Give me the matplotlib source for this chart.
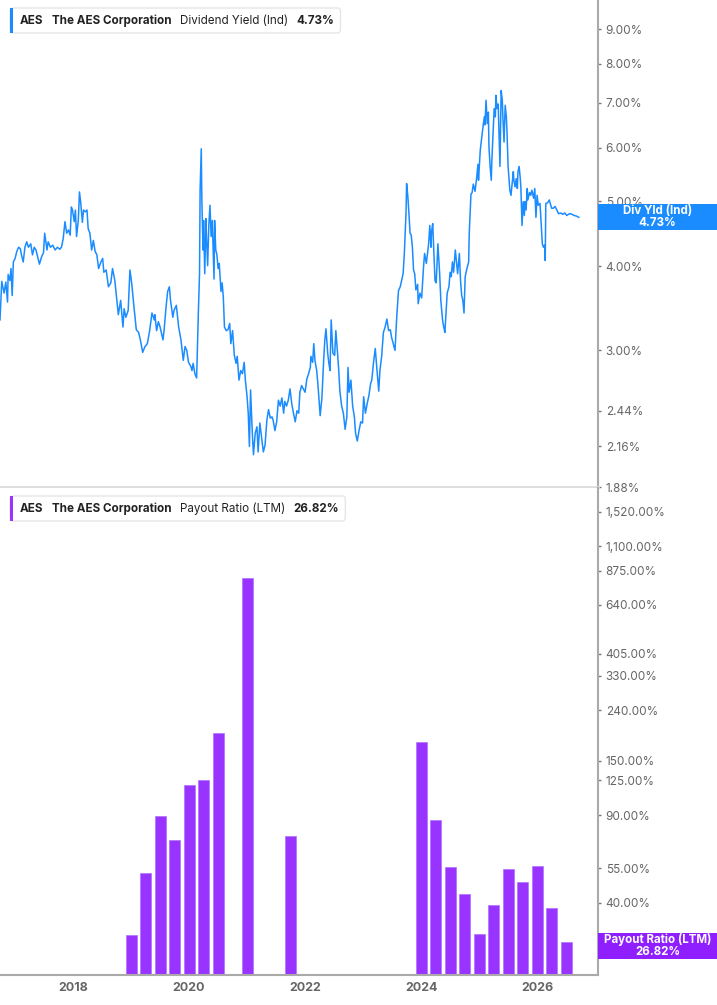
import matplotlib
matplotlib.use("Agg")
import matplotlib.pyplot as plt
from matplotlib.patches import FancyBboxPatch, Rectangle
from matplotlib.ticker import FixedLocator, NullLocator, FuncFormatter

plt.rcParams['font.family'] = ['Inter', 'DejaVu Sans']

# dividend yield (Ind), %  - decimal years
dy_dates = [
    2016.74, 2016.77, 2016.81, 2016.84, 2016.87, 2016.88, 2016.91, 2016.93, 2016.95, 2016.97,
    2017.00, 2017.03, 2017.06, 2017.09, 2017.11, 2017.14, 2017.17, 2017.20, 2017.23, 2017.27,
    2017.30, 2017.33, 2017.36, 2017.38, 2017.42, 2017.46, 2017.49, 2017.51, 2017.55, 2017.57,
    2017.61, 2017.65, 2017.69, 2017.73, 2017.77, 2017.80, 2017.83, 2017.86, 2017.89, 2017.92,
    2017.95, 2017.97, 2017.99, 2018.02, 2018.04, 2018.06, 2018.09, 2018.11, 2018.13, 2018.16,
    2018.18, 2018.21, 2018.24, 2018.26, 2018.29, 2018.32, 2018.35, 2018.38, 2018.41, 2018.44,
    2018.48, 2018.51, 2018.53, 2018.57, 2018.61, 2018.65, 2018.68, 2018.72, 2018.75, 2018.78,
    2018.82, 2018.86, 2018.88, 2018.91, 2018.95, 2018.98, 2019.01, 2019.05, 2019.09, 2019.13,
    2019.16, 2019.20, 2019.24, 2019.28, 2019.32, 2019.36, 2019.40, 2019.41, 2019.44, 2019.47,
    2019.50, 2019.55, 2019.57, 2019.60, 2019.63, 2019.66, 2019.68, 2019.72, 2019.74, 2019.78,
    2019.82, 2019.86, 2019.90, 2019.93, 2019.96, 2019.99, 2020.03,
    2020.05, 2020.07, 2020.10, 2020.13, 2020.16, 2020.18, 2020.19, 2020.21, 2020.22, 2020.24,
    2020.25, 2020.27, 2020.29, 2020.30, 2020.32, 2020.34, 2020.36, 2020.38, 2020.40, 2020.43,
    2020.44, 2020.46, 2020.48, 2020.50, 2020.52, 2020.55, 2020.57, 2020.59, 2020.61, 2020.64,
    2020.67, 2020.70, 2020.72, 2020.75, 2020.78, 2020.81, 2020.83, 2020.86, 2020.89, 2020.92,
    2020.95, 2020.97, 2021.00, 2021.02, 2021.04, 2021.06, 2021.09, 2021.11, 2021.14, 2021.17,
    2021.19, 2021.22, 2021.25, 2021.28, 2021.31, 2021.34, 2021.37, 2021.40, 2021.43, 2021.45,
    2021.48, 2021.51, 2021.54, 2021.57, 2021.60, 2021.63, 2021.65, 2021.68, 2021.71, 2021.74,
    2021.77, 2021.80, 2021.83, 2021.86, 2021.89, 2021.91, 2021.94, 2021.97, 2022.00, 2022.03,
    2022.06, 2022.09, 2022.10, 2022.13, 2022.15, 2022.17, 2022.20, 2022.22, 2022.24, 2022.26,
    2022.29, 2022.32, 2022.34, 2022.36, 2022.39, 2022.41, 2022.43, 2022.45, 2022.48, 2022.51,
    2022.53, 2022.56, 2022.58, 2022.60, 2022.63, 2022.66, 2022.69, 2022.72, 2022.74, 2022.76,
    2022.79, 2022.82, 2022.85, 2022.87, 2022.90, 2022.93, 2022.96, 2022.99, 2023.01, 2023.04,
    2023.07, 2023.10, 2023.13, 2023.15, 2023.18, 2023.21, 2023.24, 2023.27, 2023.29, 2023.32,
    2023.35, 2023.38, 2023.41, 2023.44, 2023.47, 2023.49, 2023.52, 2023.55, 2023.58, 2023.61,
    2023.64, 2023.67, 2023.69, 2023.71, 2023.74, 2023.75, 2023.77, 2023.79, 2023.81, 2023.83,
    2023.85, 2023.87, 2023.89, 2023.91, 2023.94, 2023.95, 2023.98, 2024.01, 2024.04, 2024.06,
    2024.09, 2024.11, 2024.13, 2024.15, 2024.17, 2024.18, 2024.20, 2024.22, 2024.24, 2024.26,
    2024.29, 2024.32, 2024.34, 2024.37, 2024.39, 2024.41, 2024.43, 2024.45, 2024.48, 2024.50,
    2024.52, 2024.54, 2024.56, 2024.59, 2024.61, 2024.63, 2024.66, 2024.68, 2024.70, 2024.72,
    2024.74, 2024.76, 2024.79, 2024.82, 2024.83, 2024.86, 2024.88, 2024.90, 2024.93, 2024.96,
    2024.98, 2024.99, 2025.02, 2025.04, 2025.06, 2025.09, 2025.10, 2025.12, 2025.14, 2025.16,
    2025.17, 2025.19, 2025.21, 2025.22, 2025.24, 2025.26, 2025.28, 2025.29, 2025.31, 2025.33,
    2025.34, 2025.36, 2025.38, 2025.40, 2025.41, 2025.43, 2025.45, 2025.47, 2025.48, 2025.50,
    2025.52, 2025.53, 2025.55, 2025.57, 2025.59, 2025.60, 2025.62, 2025.64, 2025.66, 2025.67,
    2025.69, 2025.71, 2025.72, 2025.74, 2025.76, 2025.78, 2025.79, 2025.81, 2025.83, 2025.84,
    2025.87, 2025.89, 2025.91, 2025.94, 2025.96, 2025.98, 2026.00, 2026.02, 2026.05, 2026.06,
    2026.09, 2026.11, 2026.13, 2026.14, 2026.15, 2026.18, 2026.21, 2026.25, 2026.28, 2026.31,
    2026.34, 2026.37, 2026.41, 2026.44, 2026.48, 2026.51, 2026.56, 2026.60, 2026.64, 2026.68,
    2026.72,
]
dy_values = [
    3.33, 3.80, 3.65, 3.79, 3.54, 3.89, 3.81, 3.97, 3.62, 4.06,
    4.11, 4.21, 4.27, 4.25, 4.16, 4.06, 4.27, 4.35, 4.27, 4.32,
    4.16, 4.27, 4.23, 4.16, 4.03, 4.14, 4.19, 4.48, 4.23, 4.35,
    4.27, 4.30, 4.23, 4.27, 4.24, 4.27, 4.40, 4.66, 4.48, 4.53,
    4.45, 4.90, 4.85, 4.66, 4.85, 4.43, 4.68, 5.16, 4.99, 4.65,
    4.85, 4.82, 4.85, 4.55, 4.48, 4.23, 4.37, 4.21, 4.16, 3.97,
    4.06, 4.11, 3.92, 3.95, 3.73, 3.78, 3.97, 3.81, 3.60, 3.39,
    3.56, 3.25, 3.46, 3.36, 3.44, 3.95, 3.78, 3.48, 3.22, 3.19,
    3.11, 2.98, 3.04, 3.07, 3.21, 3.41, 3.33, 3.39, 3.21, 3.31,
    3.25, 3.11, 3.22, 3.46, 3.67, 3.73, 3.56, 3.36, 3.44, 3.50,
    3.25, 3.11, 2.90, 3.04, 3.00, 2.88, 2.84,
    2.80, 2.87, 2.77, 2.73, 3.42, 3.90, 5.19, 5.98, 5.02, 4.23,
    4.68, 3.90, 4.71, 4.43, 4.01, 4.60, 4.93, 4.43, 4.68, 3.83,
    4.68, 4.23, 4.16, 3.97, 4.04, 3.67, 3.78, 3.60, 3.25, 3.21,
    3.22, 3.29, 3.07, 3.21, 2.95, 2.87, 2.94, 2.71, 2.80, 2.77,
    2.88, 2.71, 2.56, 2.42, 2.16, 2.62, 2.26, 2.10, 2.26, 2.31,
    2.12, 2.34, 2.23, 2.12, 2.17, 2.36, 2.45, 2.38, 2.39, 2.36,
    2.28, 2.35, 2.53, 2.48, 2.55, 2.42, 2.52, 2.48, 2.53, 2.63,
    2.50, 2.42, 2.35, 2.44, 2.42, 2.60, 2.66, 2.63, 2.60, 2.72,
    2.77, 2.83, 2.94, 2.88, 3.07, 2.90, 2.80, 2.68, 2.53, 2.40,
    2.55, 2.90, 3.11, 3.23, 2.97, 2.87, 2.80, 3.33, 2.97, 2.95,
    3.21, 2.97, 2.80, 2.61, 2.48, 2.42, 2.29, 2.39, 2.83, 2.60,
    2.71, 2.48, 2.39, 2.26, 2.20, 2.28, 2.35, 2.34, 2.56, 2.42,
    2.50, 2.57, 2.68, 2.71, 2.88, 3.02, 2.80, 2.61, 2.80, 2.94,
    3.19, 3.25, 3.34, 3.21, 3.22, 3.14, 3.07, 3.00, 3.36, 3.68,
    3.73, 3.83, 3.90, 4.16, 4.80, 5.31, 5.10, 4.80, 4.48, 4.45,
    4.27, 3.95, 3.90, 3.69, 3.76, 3.52, 3.65, 3.59, 3.97, 4.18,
    4.04, 4.18, 4.32, 4.60, 4.27, 4.50, 4.63, 4.18, 3.81, 3.78,
    4.32, 3.90, 3.56, 3.33, 3.25, 3.19, 3.41, 3.65, 3.73, 3.92,
    3.86, 4.06, 3.92, 4.23, 4.06, 3.90, 4.18, 3.81, 3.62, 3.56,
    3.41, 3.86, 3.97, 4.06, 4.48, 5.12, 5.15, 5.30, 5.17, 5.43,
    5.67, 5.37, 5.95, 6.16, 6.37, 6.67, 6.49, 7.06, 6.52, 6.78,
    6.02, 5.63, 5.37, 5.75, 6.30, 6.86, 6.67, 7.18, 6.86, 6.97,
    6.45, 5.63, 7.30, 7.06, 6.67, 6.12, 6.94, 6.67, 6.37, 5.63,
    5.34, 5.19, 5.10, 5.31, 5.53, 5.37, 5.25, 5.40, 5.22, 5.53,
    5.63, 5.40, 5.25, 4.60, 4.99, 4.76, 4.99, 4.85, 5.22, 5.02,
    5.15, 5.10, 5.19, 5.05, 5.22, 4.73, 5.10, 4.93, 4.96, 4.80,
    4.32, 4.27, 4.30, 4.08, 4.96, 4.97, 5.02, 4.88, 4.88, 4.91,
    4.85, 4.79, 4.80, 4.78, 4.80, 4.76, 4.79, 4.78, 4.76, 4.75,
    4.73,
]

# payout ratio (LTM), % - quarterly
pr_dates = [2019.0, 2019.25, 2019.5, 2019.75, 2020.0, 2020.25, 2020.5, 2021.0, 2021.75,
            2024.0, 2024.25, 2024.5, 2024.75, 2025.0, 2025.25, 2025.5, 2025.75, 2026.0,
            2026.25, 2026.5]
pr_values = [28.7, 51.7, 88.3, 70.3, 119, 124, 192, 821, 73.3,
             178, 85, 54.5, 42.4, 28.9, 38.2, 53.9, 47.3, 55.0,
             37.2, 26.82]

dy_ticks = [1.88, 2.16, 2.44, 3.0, 4.0, 5.0, 6.0, 7.0, 8.0, 9.0]
pr_ticks = [25, 40, 55, 90, 125, 150, 240, 330, 405, 640, 875, 1100, 1520]
year_ticks = [2018, 2020, 2022, 2024, 2026]

W, H = 717, 1005
fig = plt.figure(figsize=(W / 100, H / 100), dpi=100)
ax1 = fig.add_axes([0, 1 - 487 / H, 598 / W, 487 / H])
ax2 = fig.add_axes([0, 1 - 975 / H, 598 / W, (975 - 488) / H])

blue = '#1a8cff'
purple = '#9933ff'
xlim = (2016.74, 2027.05)

ax1.plot(dy_dates, dy_values, color=blue, lw=1.1)
ax1.set_yscale('log')
ax1.set_ylim(1.88, 9.95)

ax2.bar(pr_dates, pr_values, width=0.19, color=purple, bottom=1, edgecolor='#b070ff', linewidth=0.5)
ax2.set_yscale('log')
ax2.set_ylim(20.4, 1893)

for ax, ticks in ((ax1, dy_ticks), (ax2, pr_ticks)):
    ax.set_xlim(*xlim)
    ax.yaxis.tick_right()
    ax.yaxis.set_major_locator(FixedLocator(ticks))
    ax.yaxis.set_minor_locator(NullLocator())
    ax.yaxis.set_major_formatter(FuncFormatter(lambda v, p: f"{v:,.2f}%"))
    ax.tick_params(axis='y', direction='out', length=2.5, width=1, color='#777777',
                   labelsize=8.5, labelcolor='#666666', pad=3)
    for s in ('top', 'left'):
        ax.spines[s].set_visible(False)
    ax.spines['right'].set_color('#aaaaaa')
    ax.spines['right'].set_linewidth(1.5)

ax1.set_xticks([])
ax1.spines['bottom'].set_color('#dddddd')
ax1.spines['bottom'].set_linewidth(2)

ax2.set_xticks(year_ticks)
ax2.set_xticklabels([str(y) for y in year_ticks], fontweight='bold')
ax2.tick_params(axis='x', length=0, labelsize=9, labelcolor='#666666', pad=5)
ax2.spines['bottom'].set_color('#aaaaaa')
ax2.spines['bottom'].set_linewidth(1.5)

# last-value boxes on the right axis
def value_box(ax, x_last, v, color, title, ax_h_px):
    yf = ax.transAxes.inverted().transform(ax.transData.transform((x_last, v)))[1]
    h = 26 / ax_h_px
    ax.add_patch(Rectangle((1.0, yf - h / 2), 119 / 598, h, transform=ax.transAxes,
                           facecolor=color, edgecolor='none', clip_on=False, zorder=5))
    ax.text(1.0 + 59.5 / 598, yf, f"{title}\n{v:.2f}%", transform=ax.transAxes,
            ha='center', va='center', color='white', fontsize=8.3, fontweight='bold',
            linespacing=1.0, zorder=6, clip_on=False)

value_box(ax1, dy_dates[-1], dy_values[-1], blue, 'Div Yld (Ind)', 487)
value_box(ax2, pr_dates[-1], pr_values[-1], '#8f1fff', 'Payout Ratio (LTM)', 487)

# legend rows
renderer = fig.canvas.get_renderer()
def legend_row(y_px, parts, color):
    x = 20
    for txt, weight in parts:
        t = fig.text(x / W, 1 - y_px / H, txt, fontsize=8.4, fontweight=weight,
                     color='#222222', ha='left', va='center', zorder=4)
        x += t.get_window_extent(renderer).width + 8.5
    right = x - 8.5 + 6
    fig.patches.append(FancyBboxPatch((10 / W, 1 - (y_px + 12.5) / H), (right - 10) / W, 25 / H,
                                      boxstyle='round,pad=0,rounding_size=0.004',
                                      transform=fig.transFigure, facecolor='white',
                                      edgecolor='#e6e6e6', linewidth=1, zorder=3))
    fig.patches.append(Rectangle((10 / W, 1 - (y_px + 12.5) / H), 3 / W, 25 / H,
                                 transform=fig.transFigure, facecolor=color,
                                 edgecolor='none', zorder=3.5))

legend_row(20.5, [('AES', 'bold'), ('The AES Corporation', 'bold'),
                  ('Dividend Yield (Ind)', 'normal'), ('4.73%', 'bold')], blue)
legend_row(508.5, [('AES', 'bold'), ('The AES Corporation', 'bold'),
                   ('Payout Ratio (LTM)', 'normal'), ('26.82%', 'bold')], purple)

fig.savefig('out.png', dpi=100)
